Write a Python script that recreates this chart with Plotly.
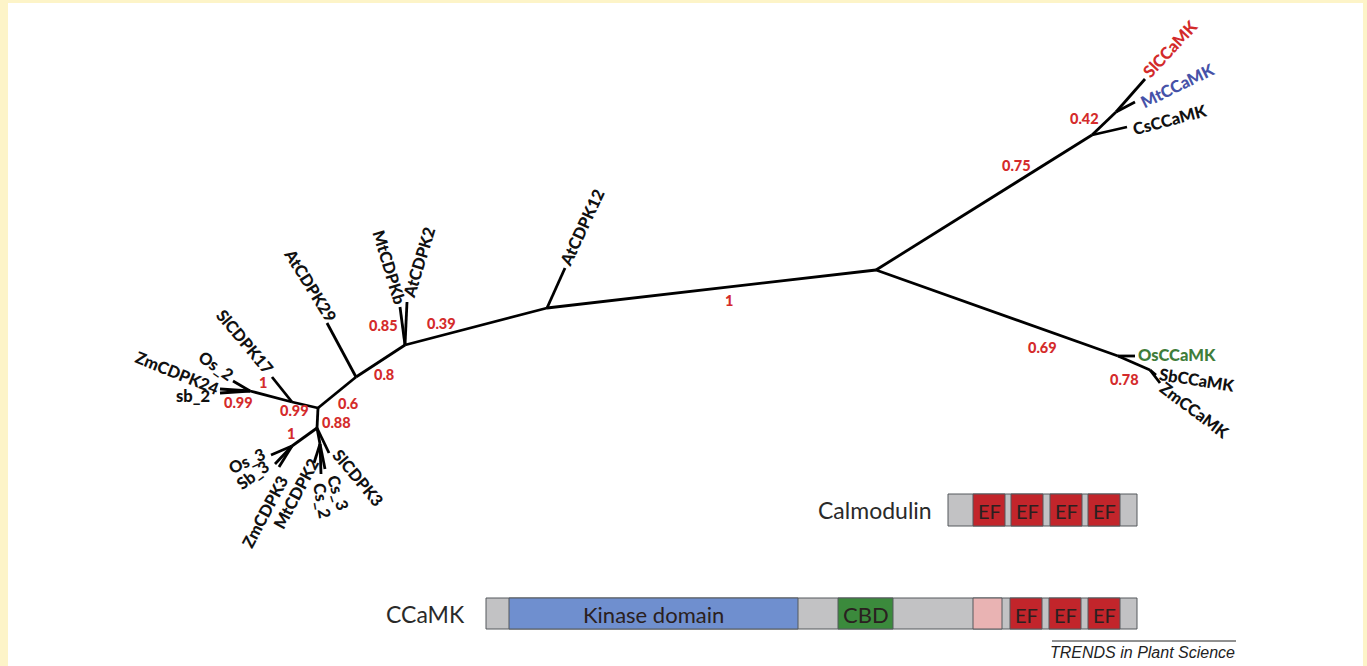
import plotly.graph_objects as go

W, H = 1367, 666

# ---- tree data (layout coordinates of nodes, chart units) ----
node_name = ["root", "cu", "cu2", "SlCCaMK", "MtCCaMK", "CsCCaMK",
             "cl", "cl2", "OsCCaMK", "SbCCaMK", "ZmCCaMK",
             "n12", "AtCDPK12", "n2", "MtCDPKb", "AtCDPK2",
             "n29", "AtCDPK29", "n6", "n17", "SlCDPK17",
             "n2b", "Os_2", "ZmCDPK24", "sb_2",
             "n88", "n3", "Os_3", "Sb_3", "ZmCDPK3",
             "nCs", "MtCDPK2", "Cs_2", "Cs_3", "SlCDPK3"]
node_x = [876, 1092, 1116, 1145, 1135, 1127,
          1118, 1150, 1135, 1156, 1160,
          547, 565, 405, 400, 407,
          356, 327, 318, 292, 272,
          250, 233, 220, 220,
          317, 292, 271, 275, 279,
          320, 314, 321, 325, 329]
node_y = [270, 135, 112, 79, 102, 127,
          356, 370, 356, 375, 383,
          308, 268, 345, 307, 302,
          377, 323, 408, 402, 377,
          391, 381, 389, 393,
          428, 446, 455, 464, 467,
          444, 463, 474, 469, 453]
edge_parent = ["root", "cu", "cu2", "cu2", "cu",
               "root", "cl", "cl", "cl2", "cl2",
               "root", "n12", "n12", "n2", "n2",
               "n2", "n29", "n29", "n6", "n17", "n17",
               "n2b", "n2b", "n2b",
               "n6", "n88", "n3", "n3", "n3",
               "n88", "nCs", "nCs", "nCs", "n88"]
edge_child = ["cu", "cu2", "SlCCaMK", "MtCCaMK", "CsCCaMK",
              "cl", "OsCCaMK", "cl2", "SbCCaMK", "ZmCCaMK",
              "n12", "AtCDPK12", "n2", "MtCDPKb", "AtCDPK2",
              "n29", "AtCDPK29", "n6", "n17", "SlCDPK17", "n2b",
              "Os_2", "ZmCDPK24", "sb_2",
              "n88", "n3", "Os_3", "Sb_3", "ZmCDPK3",
              "nCs", "MtCDPK2", "Cs_2", "Cs_3", "SlCDPK3"]

# leaf labels: text, centre x, centre y, angle, colour
leaf_text = ["SlCCaMK", "MtCCaMK", "CsCCaMK", "OsCCaMK", "SbCCaMK", "ZmCCaMK",
             "AtCDPK12", "AtCDPK2", "MtCDPKb", "AtCDPK29", "SlCDPK17",
             "Os_2", "ZmCDPK24", "sb_2", "Os_3", "Sb_3", "ZmCDPK3",
             "MtCDPK2", "Cs_2", "Cs_3", "SlCDPK3"]
leaf_x = [1170, 1177, 1169, 1177, 1197, 1194,
          582, 419, 389, 310, 245,
          216, 177, 193, 247, 253, 265,
          296, 322, 338, 358]
leaf_y = [49, 86, 120, 355, 380, 410,
          228, 263, 267, 285, 342,
          366, 373, 396, 461, 475, 512,
          494, 501, 493, 478]
leaf_angle = [-47, -26, -15, 0, 9, 37,
              -65, -73, 73, 58, 50,
              35, 22, 0, -25, -37, -62,
              -62, 80, 72, 50]
leaf_color = ["#d32a2a", "#4652a8", "#111111", "#3f7d3a", "#111111", "#111111"] + ["#111111"] * 15

# bootstrap support values
boot_text = ["0.42", "0.75", "0.69", "0.78", "1", "0.39", "0.85", "0.8",
             "0.6", "0.88", "1", "0.99", "0.99", "1"]
boot_x = [1084, 1016, 1042, 1124, 729, 441, 383, 384, 348, 336, 263, 238, 294, 291]
boot_y = [118, 165, 347, 379, 300, 323, 325, 374, 403, 422, 382, 402, 410, 433]

# ---- domain diagrams ----
dom_row = ["Calmodulin"] * 5 + ["CCaMK"] * 7
dom_x0 = [948, 973, 1011, 1050, 1088,
          486, 509, 838, 973, 1010, 1049, 1088]
dom_x1 = [1137, 1005, 1043, 1082, 1120,
          1137, 798, 893, 1002, 1042, 1081, 1120]
dom_label = ["", "EF", "EF", "EF", "EF",
             "", "Kinase domain", "CBD", "", "EF", "EF", "EF"]
dom_color = ["#c2c2c4", "#c2252b", "#c2252b", "#c2252b", "#c2252b",
             "#c2c2c4", "#6f8fcf", "#3b8a3c", "#e9b3b3", "#c2252b", "#c2252b", "#c2252b"]
row_names = ["Calmodulin", "CCaMK"]
row_y0 = [494, 598]
row_y1 = [526, 629]
row_title_x = [934, 467]

fig = go.Figure()

# tree branches
pos = {n: (x, y) for n, x, y in zip(node_name, node_x, node_y)}
lx, ly = [], []
for p, c in zip(edge_parent, edge_child):
    lx += [pos[p][0], pos[c][0], None]
    ly += [pos[p][1], pos[c][1], None]
fig.add_trace(go.Scatter(x=lx, y=ly, mode="lines",
                         line=dict(color="#000000", width=2.8),
                         hoverinfo="skip", showlegend=False))

ann = []
for t, x, y, a, col in zip(leaf_text, leaf_x, leaf_y, leaf_angle, leaf_color):
    ann.append(dict(x=x, y=y, text=t, showarrow=False, textangle=a,
                    xanchor="center", yanchor="middle",
                    font=dict(family="Lato", size=16.5, color=col, weight=900)))
for t, x, y in zip(boot_text, boot_x, boot_y):
    ann.append(dict(x=x, y=y, text=t, showarrow=False,
                    xanchor="center", yanchor="middle",
                    font=dict(family="Lato", size=14.5, color="#d42b2b", weight=900)))

shapes = []
# yellow frame
frame = "#fdf4c8"
shapes += [dict(type="rect", xref="paper", yref="paper", x0=0, x1=8 / W, y0=0, y1=1,
                fillcolor=frame, line=dict(width=0), layer="above"),
           dict(type="rect", xref="paper", yref="paper", x0=0, x1=1, y0=1 - 3 / H, y1=1,
                fillcolor=frame, line=dict(width=0), layer="above"),
           dict(type="rect", xref="paper", yref="paper", x0=1 - 4 / W, x1=1, y0=0, y1=1,
                fillcolor=frame, line=dict(width=0), layer="above")]

ry = {n: (a, b) for n, a, b in zip(row_names, row_y0, row_y1)}
for r, x0, x1, lab, col in zip(dom_row, dom_x0, dom_x1, dom_label, dom_color):
    y0, y1 = ry[r]
    shapes.append(dict(type="rect", xref="x", yref="y", x0=x0, x1=x1, y0=y0, y1=y1,
                       fillcolor=col, line=dict(color="#55585c", width=1)))
    if lab:
        ann.append(dict(x=(x0 + x1) / 2, y=(y0 + y1) / 2 + 1, text=lab, showarrow=False,
                        xanchor="center", yanchor="middle",
                        font=dict(family="Lato", size=22 if lab != "EF" else 20,
                                  color="#2a2020")))
for r, tx, y0, y1 in zip(row_names, row_title_x, row_y0, row_y1):
    ann.append(dict(x=tx, y=(y0 + y1) / 2, text=r, showarrow=False,
                    xanchor="right", yanchor="middle",
                    font=dict(family="Lato", size=23, color="#2a2a2a")))

# footer
shapes.append(dict(type="line", xref="x", yref="y", x0=1052, x1=1236, y0=641, y1=641,
                   line=dict(color="#222222", width=1)))
ann.append(dict(x=1237, y=652, text="<i>TRENDS in Plant Science</i>", showarrow=False,
                xanchor="right", yanchor="middle",
                font=dict(family="Liberation Sans", size=16, color="#222222")))

fig.update_layout(
    width=W, height=H, margin=dict(l=0, r=0, t=0, b=0),
    paper_bgcolor="white", plot_bgcolor="white",
    xaxis=dict(range=[0, W], visible=False, fixedrange=True),
    yaxis=dict(range=[H, 0], visible=False, fixedrange=True),
    shapes=shapes, annotations=ann, showlegend=False,
)
fig.write_html("out.html", config={"displayModeBar": False},
               post_script="document.body.style.margin='0';document.body.style.overflow='hidden';")
